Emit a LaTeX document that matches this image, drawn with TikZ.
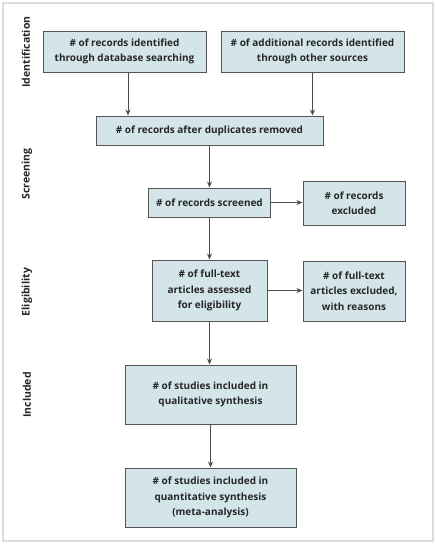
\documentclass[tikz,border=0pt]{standalone}
\usepackage{fontspec}
\setmainfont{Open Sans}
\usetikzlibrary{arrows.meta}
\definecolor{boxfill}{HTML}{D3E5E9}
\definecolor{boxline}{HTML}{555555}
\definecolor{frame}{HTML}{DDDDDD}
\begin{document}
\begin{tikzpicture}[x=1pt,y=-1pt,
  box/.style={draw=boxline, line width=1pt, fill=boxfill, align=center, inner sep=0pt,
    font=\fontsize{10}{15.5}\selectfont\bfseries, text=black!85},
  arr/.style={draw=boxline!90!black, line width=0.9pt, -{Stealth[length=6pt,width=5pt]}},
  side/.style={rotate=90, font=\fontsize{10.5}{12}\selectfont\bfseries, text=black!85}]
\useasboundingbox (0,0) rectangle (436,544);
\draw[frame, line width=1.5pt] (3,3) rectangle (433,541);
\node[box, minimum width=163, minimum height=41] (A) at (124.5,51.5) {\# of records identified\\through database searching};
\node[box, minimum width=183, minimum height=41] (B) at (312.5,51.5) {\# of additional records identified\\through other sources};
\node[box, minimum width=227, minimum height=29] (C) at (209.5,130.5) {\# of records after duplicates removed};
\node[box, minimum width=122, minimum height=29] (D) at (209.5,202.5) {\# of records screened};
\node[box, minimum width=102, minimum height=44] (E) at (354,203) {\# of records\\excluded};
\node[box, minimum width=115, minimum height=61] (F) at (209.5,290.5) {\# of full-text\\articles assessed\\for eligibility};
\node[box, minimum width=102, minimum height=60] (G) at (354,291) {\# of full-text\\articles excluded,\\with reasons};
\node[box, minimum width=171, minimum height=59] (H) at (210.5,394.5) {\# of studies included in\\qualitative synthesis};
\node[box, minimum width=171, minimum height=59] (I) at (210.5,497.5) {\# of studies included in\\quantitative synthesis\\(meta-analysis)};
\node[side] (L1) at (26,52) {Identification};
\node[side] (L2) at (27,174) {Screening};
\node[side] (L3) at (27,292) {Eligibility};
\node[side] (L4) at (27,395) {Included};
\draw[arr] ([xshift=3.5]A.south) -- ([xshift=3.5]A.south |- C.north);
\draw[arr] (B.south) -- (B.south |- C.north);
\draw[arr] (C.south) -- (D.north);
\draw[arr] (D.east) -- (D.east -| E.west);
\draw[arr] (D.south) -- (F.north);
\draw[arr] (F.east) -- (F.east -| G.west);
\draw[arr] (F.south) -- (F.south |- H.north);
\draw[arr] (H.south) -- (I.north);
\end{tikzpicture}
\end{document}
